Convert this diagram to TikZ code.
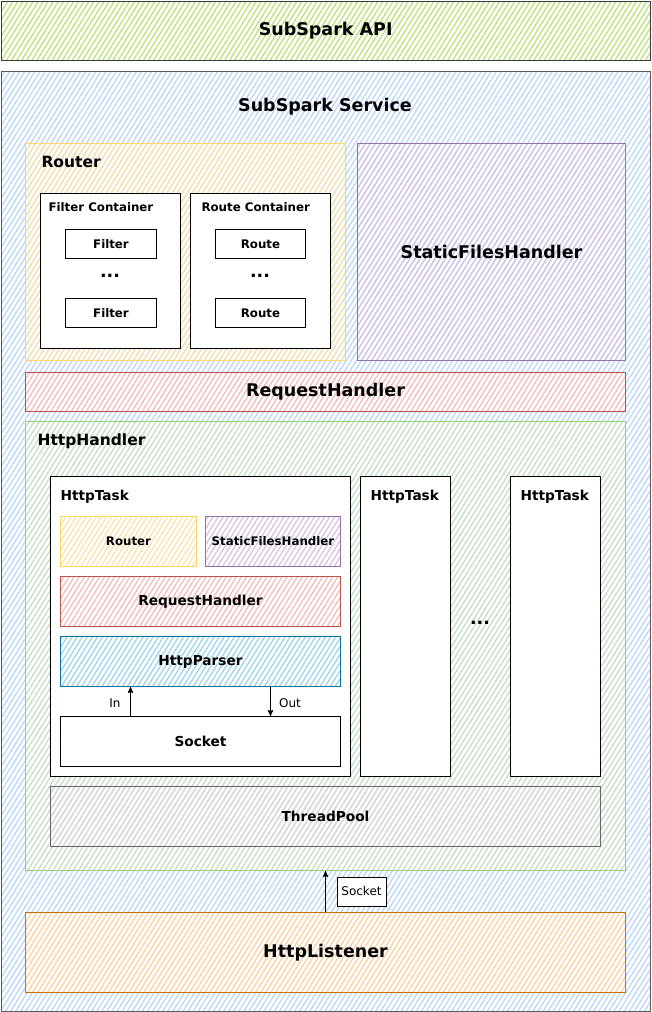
\documentclass[tikz,border=0pt]{standalone}
\usepackage{fontspec}
\setmainfont{DejaVu Sans}
\usetikzlibrary{arrows}
\usetikzlibrary{patterns.meta}
\definecolor{apiline}{HTML}{36393D}
\definecolor{apihatch}{HTML}{BEE27A}
\definecolor{svcline}{HTML}{5A5A5A}
\definecolor{svchatch}{HTML}{BCD6F8}
\definecolor{rtline}{HTML}{FFD966}
\definecolor{rthatch}{HTML}{FBE3AC}
\definecolor{sfline}{HTML}{9673A6}
\definecolor{sfhatch}{HTML}{D6C4E2}
\definecolor{rqline}{HTML}{B85450}
\definecolor{rqhatch}{HTML}{F4BDBB}
\definecolor{hhline}{HTML}{97D077}
\definecolor{hhhatch}{HTML}{C5DEC3}
\definecolor{hpline}{HTML}{10739E}
\definecolor{hphatch}{HTML}{9ED4EC}
\definecolor{tpline}{HTML}{666666}
\definecolor{tphatch}{HTML}{DADADA}
\definecolor{hlline}{HTML}{C87000}
\definecolor{hlhatch}{HTML}{FAD2A4}

\begin{document}
\begin{tikzpicture}[x=1pt, y=-1pt, ->, >=stealth', thin]
  \tikzset{
    hatch/.style 2 args={draw=#1, line width=1pt, pattern={Lines[angle=58,distance=4.3pt,line width=1.3pt]}, pattern color=#2},
    cover/.style={preaction={fill=white}},
    plain/.style={draw=black, line width=1pt, fill=white},
    sz/.style 2 args={anchor=north west, minimum width=#1pt, minimum height=#2pt, inner sep=0pt},
    big/.style={font=\fontsize{17.5}{20}\selectfont\bfseries},
    head/.style={anchor=west, font=\fontsize{15.5}{18}\selectfont\bfseries},
    mid/.style={font=\fontsize{13.7}{16}\selectfont\bfseries},
    small/.style={font=\fontsize{11.8}{14}\selectfont\bfseries},
    tag/.style={font=\fontsize{12}{14}\selectfont},
    link/.style={draw=black, line width=1.1pt}
  }
  \useasboundingbox (0,0) rectangle (651,1012);

  % top and outer frame
  \node[hatch={apiline}{apihatch}, sz={649}{59}, big] (api) at (0.5,0.5) {SubSpark API};
  \node[hatch={svcline}{svchatch}, sz={649}{940}] (service) at (0.5,71) {};
  \node[big] (servicetitle) at (325,107) {SubSpark Service};

  % router
  \node[hatch={rtline}{rthatch}, sz={320}{217}] (router) at (25,143) {};
  \node[head] (routertitle) at (38,162) {Router};
  \node[plain, sz={140}{155}] (filters) at (40,193) {};
  \node[small, anchor=west] (filterstitle) at (45,207) {Filter Container};
  \node[plain, sz={91}{29}, small] (filter1) at (65,229) {Filter};
  \node[big] (filterdots) at (110,276) {...};
  \node[plain, sz={91}{29}, small] (filter2) at (65,298) {Filter};
  \node[plain, sz={140}{155}] (routes) at (190,193) {};
  \node[small, anchor=west] (routestitle) at (198,207) {Route Container};
  \node[plain, sz={90}{29}, small] (route1) at (215,229) {Route};
  \node[big] (routedots) at (260,276) {...};
  \node[plain, sz={90}{29}, small] (route2) at (215,298) {Route};

  \node[hatch={sfline}{sfhatch}, sz={268}{217}, big] (static) at (357,143) {StaticFilesHandler};
  \node[hatch={rqline}{rqhatch}, cover, sz={600}{39}, big] (request) at (25,372) {RequestHandler};

  % http handler
  \node[hatch={hhline}{hhhatch}, cover, sz={600}{449}] (handler) at (25,421) {};
  \node[head] (handlertitle) at (34,441) {HttpHandler};

  \node[plain, sz={300}{300}] (task1) at (50,476) {};
  \node[mid, anchor=west] (task1title) at (57,497) {HttpTask};
  \node[hatch={rtline}{rthatch}, sz={136}{50}, small] (trouter) at (60,516) {Router};
  \node[hatch={sfline}{sfhatch}, sz={135}{50}, small] (tstatic) at (205,516) {StaticFilesHandler};
  \node[hatch={rqline}{rqhatch}, sz={280}{50}, mid] (trequest) at (60,576) {RequestHandler};
  \node[hatch={hpline}{hphatch}, sz={280}{50}, mid] (tparser) at (60,636) {HttpParser};
  \node[plain, sz={280}{50}, mid] (tsocket) at (60,716) {Socket};

  \node[plain, sz={90}{300}] (task2) at (360,476) {};
  \node[mid, anchor=west] (task2title) at (367,497) {HttpTask};
  \node[big] (taskdots) at (480,623) {...};
  \node[plain, sz={90}{300}] (task3) at (510,476) {};
  \node[mid, anchor=west] (task3title) at (517,497) {HttpTask};

  \node[hatch={tpline}{tphatch}, sz={550}{60}, mid] (pool) at (50,786) {ThreadPool};

  \node[hatch={hlline}{hlhatch}, cover, sz={600}{80}, big] (listener) at (25,912) {HttpListener};

  % connectors
  \draw[link] ([xshift=-70pt]tsocket.north) -- ([xshift=-70pt]tparser.south);
  \draw[link] ([xshift=70pt]tparser.south) -- ([xshift=70pt]tsocket.north);
  \node[tag] (inlabel) at (115,703) {In};
  \node[tag] (outlabel) at (290,703) {Out};

  \draw[link] (listener.north) -- (handler.south);
  \node[tag, draw=black, fill=white, line width=0.9pt, minimum width=49pt, minimum height=29pt, inner sep=0pt] (socketlabel) at (361.5,891.5) {Socket};
\end{tikzpicture}
\end{document}
